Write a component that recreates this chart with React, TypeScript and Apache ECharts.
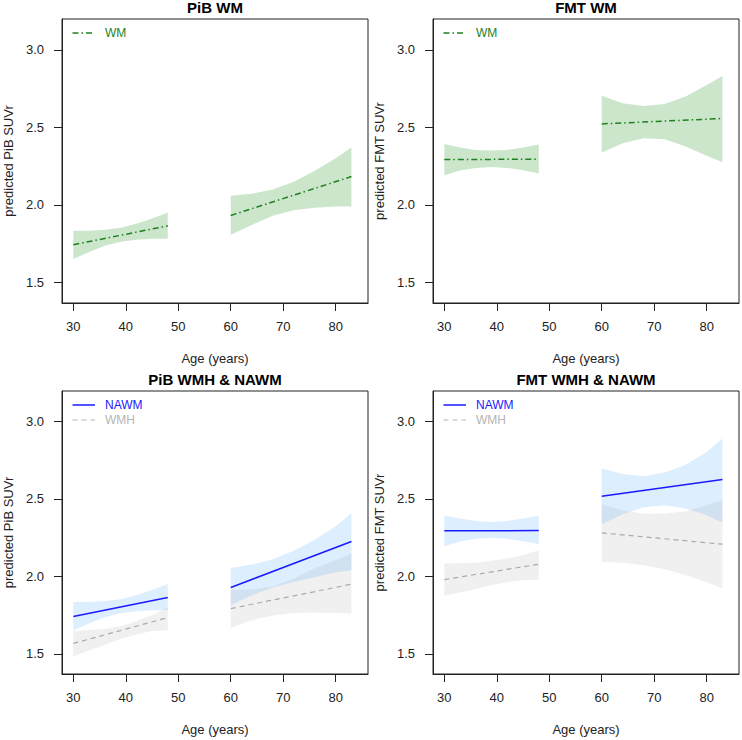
import React, { useEffect, useRef } from "react";
import * as echarts from "echarts";

// ---------- data ----------
const ageBand1 = [30, 33, 36, 39, 42, 45, 48];
const ageBand2 = [60, 64, 68, 72, 76, 80, 83];
const ageLine1 = [30, 48];
const ageLine2 = [60, 83];
const xTicks = [30, 40, 50, 60, 70, 80];
const yTicks = [1.5, 2.0, 2.5, 3.0];

// PiB WM
const pibWmLine1 = [1.743, 1.865];
const pibWmLine2 = [1.932, 2.183];
const pibWmLo1 = [1.651, 1.696, 1.736, 1.762, 1.775, 1.781, 1.781];
const pibWmHi1 = [1.833, 1.833, 1.839, 1.852, 1.878, 1.912, 1.951];
const pibWmLo2 = [1.807, 1.871, 1.93, 1.965, 1.982, 1.99, 1.99];
const pibWmHi2 = [2.059, 2.072, 2.1, 2.15, 2.22, 2.302, 2.37];

// FMT WM
const fmtWmLine1 = [2.293, 2.295];
const fmtWmLine2 = [2.523, 2.558];
const fmtWmLo1 = [2.192, 2.222, 2.239, 2.244, 2.239, 2.224, 2.203];
const fmtWmHi1 = [2.394, 2.37, 2.355, 2.351, 2.355, 2.37, 2.39];
const fmtWmLo2 = [2.338, 2.398, 2.43, 2.424, 2.377, 2.317, 2.276];
const fmtWmHi2 = [2.705, 2.656, 2.639, 2.652, 2.7, 2.774, 2.832];

// PiB NAWM
const pibNawmLine1 = [1.741, 1.863];
const pibNawmLine2 = [1.928, 2.224];
const pibNawmLo1 = [1.652, 1.696, 1.736, 1.762, 1.775, 1.781, 1.781];
const pibNawmHi1 = [1.835, 1.835, 1.84, 1.852, 1.878, 1.912, 1.951];
const pibNawmLo2 = [1.814, 1.878, 1.928, 1.963, 1.994, 2.026, 2.039];
const pibNawmHi2 = [2.054, 2.076, 2.11, 2.165, 2.235, 2.323, 2.405];
// PiB WMH
const pibWmhLine1 = [1.567, 1.734];
const pibWmhLine2 = [1.792, 1.949];
const pibWmhLo1 = [1.485, 1.521, 1.558, 1.596, 1.625, 1.648, 1.652];
const pibWmhHi1 = [1.648, 1.653, 1.66, 1.678, 1.71, 1.749, 1.799];
const pibWmhLo2 = [1.667, 1.716, 1.748, 1.764, 1.767, 1.764, 1.76];
const pibWmhHi2 = [1.91, 1.915, 1.935, 1.985, 2.052, 2.104, 2.147];

// FMT NAWM
const fmtNawmLine1 = [2.293, 2.295];
const fmtNawmLine2 = [2.516, 2.624];
const fmtNawmLo1 = [2.194, 2.224, 2.242, 2.248, 2.242, 2.226, 2.206];
const fmtNawmHi1 = [2.394, 2.372, 2.357, 2.351, 2.357, 2.372, 2.39];
const fmtNawmLo2 = [2.336, 2.4, 2.445, 2.458, 2.438, 2.394, 2.347];
const fmtNawmHi2 = [2.695, 2.66, 2.645, 2.67, 2.72, 2.802, 2.888];
// FMT WMH
const fmtWmhLine1 = [1.979, 2.078];
const fmtWmhLine2 = [2.28, 2.207];
const fmtWmhLo1 = [1.874, 1.896, 1.918, 1.944, 1.962, 1.975, 1.979];
const fmtWmhHi1 = [2.082, 2.084, 2.088, 2.1, 2.115, 2.136, 2.168];
const fmtWmhLo2 = [2.093, 2.088, 2.072, 2.045, 2.008, 1.964, 1.921];
const fmtWmhHi2 = [2.465, 2.425, 2.404, 2.405, 2.42, 2.458, 2.491];

const titles = ["PiB WM", "FMT WM", "PiB WMH & NAWM", "FMT WMH & NAWM"];
const yNames = ["predicted PiB SUVr", "predicted FMT SUVr", "predicted PiB SUVr", "predicted FMT SUVr"];

// ---------- styles ----------
const FONT = "'Liberation Sans', Arial, Helvetica, sans-serif";
const AXIS = "#222";
const GREEN = "#1f801f";
const GREEN_BAND = "rgba(0,128,0,0.2)";
const BLUE = "#1a1aff";
const BLUE_BAND = "rgba(30,144,255,0.15)";
const GRAY = "#aaaaaa";
const GRAY_BAND = "rgba(128,128,128,0.12)";

const grids = [
  { left: 62, top: 19, width: 306, height: 284 },
  { left: 433, top: 19, width: 306, height: 284 },
  { left: 62, top: 391, width: 306, height: 283 },
  { left: 433, top: 391, width: 306, height: 283 },
];
const yRanges = [
  [1.367, 3.2],
  [1.367, 3.2],
  [1.37, 3.195],
  [1.37, 3.195],
];

function band(g: number, ages: number[], lo: number[], hi: number[], color: string, z: number) {
  return {
    type: "custom",
    xAxisIndex: g,
    yAxisIndex: g,
    silent: true,
    z,
    data: ages.map((a, i) => [a, lo[i], hi[i]]),
    encode: { x: 0, y: [1, 2] },
    renderItem: (params: any, api: any) => {
      if (params.dataIndex !== 0) return null;
      const pts: number[][] = [];
      for (let i = 0; i < ages.length; i++) pts.push(api.coord([ages[i], hi[i]]));
      for (let i = ages.length - 1; i >= 0; i--) pts.push(api.coord([ages[i], lo[i]]));
      return { type: "polygon", shape: { points: pts }, style: { fill: color, stroke: "none" } };
    },
  };
}

function line(g: number, ages: number[], vals: number[], color: string, width: number, type: any, z: number) {
  return {
    type: "line",
    xAxisIndex: g,
    yAxisIndex: g,
    silent: true,
    z,
    symbol: "none",
    data: ages.map((a, i) => [a, vals[i]]),
    lineStyle: { color, width, type },
  };
}

const DOTDASH = [6, 3, 1.5, 3];
const DASH = [5, 4];

export default function App() {
  const ref = useRef<HTMLDivElement>(null);
  useEffect(() => {
    if (!ref.current) return;
    const chart = echarts.init(ref.current, undefined, { renderer: "svg" });

    const xAxes = grids.map((_, g) => ({
      type: "value",
      gridIndex: g,
      min: 27.84,
      max: 86.16,
      name: "Age (years)",
      nameLocation: "middle",
      nameGap: 49,
      nameTextStyle: { color: AXIS, fontSize: 13, fontFamily: FONT },
      axisLine: { show: true, lineStyle: { color: AXIS, width: 1 } },
      axisTick: { show: true, length: 8, lineStyle: { color: AXIS }, customValues: xTicks },
      axisLabel: { color: AXIS, fontSize: 13, margin: 17, fontFamily: FONT, customValues: xTicks },
      splitLine: { show: false },
    }));
    const yAxes = grids.map((_, g) => ({
      type: "value",
      gridIndex: g,
      min: yRanges[g][0],
      max: yRanges[g][1],
      name: yNames[g],
      nameLocation: "middle",
      nameGap: 47,
      nameTextStyle: { color: AXIS, fontSize: 13, fontFamily: FONT },
      axisLine: { show: true, lineStyle: { color: AXIS, width: 1 } },
      axisTick: { show: true, length: 8, lineStyle: { color: AXIS }, customValues: yTicks },
      axisLabel: {
        color: AXIS,
        fontSize: 13,
        margin: 18,
        fontFamily: FONT,
        customValues: yTicks,
        formatter: (v: number) => v.toFixed(1),
      },
      splitLine: { show: false },
    }));

    const series: any[] = [
      // panel 1
      band(0, ageBand1, pibWmLo1, pibWmHi1, GREEN_BAND, 1),
      band(0, ageBand2, pibWmLo2, pibWmHi2, GREEN_BAND, 1),
      line(0, ageLine1, pibWmLine1, GREEN, 1.5, DOTDASH, 5),
      line(0, ageLine2, pibWmLine2, GREEN, 1.5, DOTDASH, 5),
      // panel 2
      band(1, ageBand1, fmtWmLo1, fmtWmHi1, GREEN_BAND, 1),
      band(1, ageBand2, fmtWmLo2, fmtWmHi2, GREEN_BAND, 1),
      line(1, ageLine1, fmtWmLine1, GREEN, 1.5, DOTDASH, 5),
      line(1, ageLine2, fmtWmLine2, GREEN, 1.5, DOTDASH, 5),
      // panel 3
      band(2, ageBand1, pibNawmLo1, pibNawmHi1, BLUE_BAND, 1),
      band(2, ageBand2, pibNawmLo2, pibNawmHi2, BLUE_BAND, 1),
      band(2, ageBand1, pibWmhLo1, pibWmhHi1, GRAY_BAND, 2),
      band(2, ageBand2, pibWmhLo2, pibWmhHi2, GRAY_BAND, 2),
      line(2, ageLine1, pibWmhLine1, GRAY, 1.2, DASH, 4),
      line(2, ageLine2, pibWmhLine2, GRAY, 1.2, DASH, 4),
      line(2, ageLine1, pibNawmLine1, BLUE, 1.5, "solid", 5),
      line(2, ageLine2, pibNawmLine2, BLUE, 1.5, "solid", 5),
      // panel 4
      band(3, ageBand1, fmtNawmLo1, fmtNawmHi1, BLUE_BAND, 1),
      band(3, ageBand2, fmtNawmLo2, fmtNawmHi2, BLUE_BAND, 1),
      band(3, ageBand1, fmtWmhLo1, fmtWmhHi1, GRAY_BAND, 2),
      band(3, ageBand2, fmtWmhLo2, fmtWmhHi2, GRAY_BAND, 2),
      line(3, ageLine1, fmtWmhLine1, GRAY, 1.2, DASH, 4),
      line(3, ageLine2, fmtWmhLine2, GRAY, 1.2, DASH, 4),
      line(3, ageLine1, fmtNawmLine1, BLUE, 1.5, "solid", 5),
      line(3, ageLine2, fmtNawmLine2, BLUE, 1.5, "solid", 5),
    ];

    const graphic: any[] = [];
    grids.forEach((gr, g) => {
      graphic.push({
        type: "text",
        x: gr.left + gr.width / 2,
        y: g < 2 ? 7.5 : 379,
        style: {
          text: titles[g],
          font: `bold 15px ${FONT}`,
          fill: "#000",
          textAlign: "center",
          textVerticalAlign: "middle",
        },
      });
    });
    const legendItems = (g: number) =>
      g < 2
        ? [{ label: "WM", color: GREEN, dash: DOTDASH, width: 1.5 }]
        : [
            { label: "NAWM", color: BLUE, dash: null, width: 1.5 },
            { label: "WMH", color: "#b5b5b5", dash: DASH, width: 1.2 },
          ];
    grids.forEach((gr, g) => {
      legendItems(g).forEach((it, k) => {
        const y = gr.top + 14 + k * 15;
        graphic.push({
          type: "line",
          shape: { x1: gr.left + 10.5, y1: y, x2: gr.left + 33, y2: y },
          style: { stroke: it.color, lineWidth: it.width, lineDash: it.dash || undefined },
          z: 10,
        });
        graphic.push({
          type: "text",
          x: gr.left + 43,
          y,
          style: {
            text: it.label,
            font: `12px ${FONT}`,
            fill: it.color,
            textAlign: "left",
            textVerticalAlign: "middle",
          },
          z: 10,
        });
      });
    });

    chart.setOption({
      animation: false,
      backgroundColor: "#fff",
      textStyle: { fontFamily: FONT },
      grid: grids.map((gr) => ({
        ...gr,
        show: true,
        borderColor: AXIS,
        borderWidth: 1,
        backgroundColor: "transparent",
        containLabel: false,
      })),
      xAxis: xAxes,
      yAxis: yAxes,
      series,
      graphic,
    });
    return () => chart.dispose();
  }, []);
  return (
    <div
      ref={ref}
      style={{ position: "absolute", left: 0, top: 0, width: 742, height: 740 }}
    />
  );
}
